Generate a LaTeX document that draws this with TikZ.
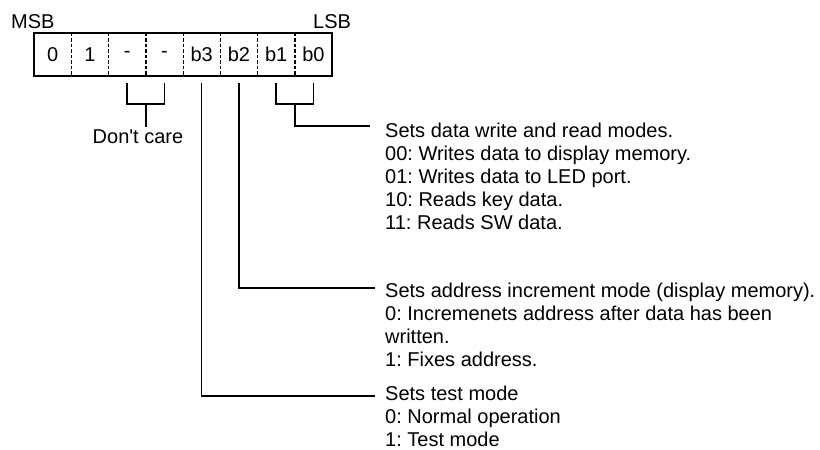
\documentclass[tikz,border=0pt]{standalone}
\usepackage{fontspec}
\setmainfont{Liberation Sans}
\usetikzlibrary{calc,positioning}
\frenchspacing
\tikzset{
  bitcell/.style={minimum width=37.25pt, minimum height=43pt, inner sep=0pt},
  regframe/.style={line width=2pt},
  bitsep/.style={line width=1.2pt, dash pattern=on 3.5pt off 2pt},
  lead/.style={line width=1.6pt},
  note/.style={inner sep=0pt, align=left, anchor=base west}
}
\begin{document}
\begin{tikzpicture}[x=1pt,y=-1pt,font=\fontsize{20}{23}\selectfont]
  \useasboundingbox (0,0) rectangle (820,450);
  % Register bits
  \foreach \b [count=\i from 0] in {0,1,-,-,b3,b2,b1,b0}
    \node[bitcell] (bit\i) at ({34+37.25*(\i+0.5)},54.5) {\b};
  \draw[regframe] (bit0.north west) rectangle (bit7.south east);
  \foreach \i in {0,...,6}
    \draw[bitsep] (bit\i.north east) -- (bit\i.south east);
  \node[note] (msb) at (11,28) {MSB};
  \node[note] (lsb) at (313,28) {LSB};

  % Don't care bracket
  \coordinate (dcmid) at ($(bit2.south east)+(0,28)$);
  \draw[lead] ($(bit2.south)+(0,7)$) |- (dcmid) -| ($(bit3.south)+(0,7)$);
  \node[note, anchor=base, inner sep=2pt] (dontcare) at (138,143) {Don\textquotesingle t care};
  \draw[lead] (dcmid) -- (dcmid |- dontcare.north);

  % Write/read mode bits (node anchored on its last line)
  \coordinate (rwmid) at ($(bit6.south east)+(0,28)$);
  \draw[lead] ($(bit6.south)+(0,7)$) |- (rwmid) -| ($(bit7.south)+(0,7)$);
  \node[note] (rwmode) at (385,229)
    {Sets data write and read modes.\\00: Writes data to display memory.\\
    01: Writes data to LED port.\\10: Reads key data.\\11: Reads SW data.};
  \coordinate (rwin) at ($(rwmode.base west)+(-15,-103)$);
  \draw[lead] (rwmid) |- (rwin);

  % Address increment bit
  \node[note] (incmode) at (385,366)
    {Sets address increment mode (display memory).\\
    0: Incremenets address after data has been\\written.\\1: Fixes address.};
  \coordinate (incin) at ($(incmode.base west)+(-10,-78)$);
  \draw[lead] ($(bit5.south)+(0,7)$) |- (incin);

  % Test mode bit
  \node[note] (testmode) at (385,446)
    {Sets test mode\\0: Normal operation\\1: Test mode};
  \coordinate (testin) at ($(testmode.base west)+(-10,-50)$);
  \draw[lead] ($(bit4.south)+(0,7)$) |- (testin);
\end{tikzpicture}
\end{document}
